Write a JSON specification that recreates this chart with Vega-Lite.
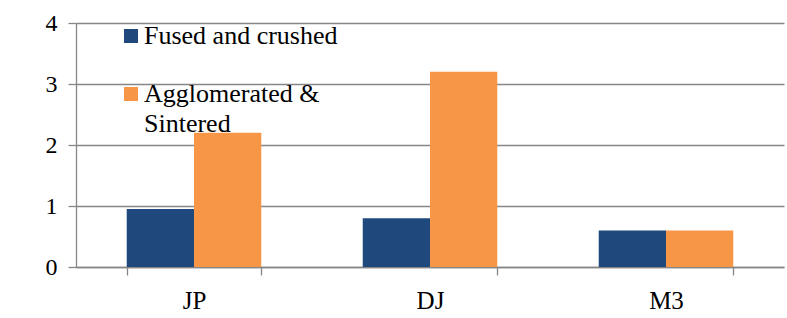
{
  "$schema": "https://vega.github.io/schema/vega-lite/v6.json",
  "width": 708,
  "height": 244,
  "autosize": {"type": "none"},
  "padding": {"left": 76, "top": 23, "right": 3, "bottom": 51},
  "data": {"values": [
    {"sample": "JP", "series": "Fused and crushed", "value": 0.95},
    {"sample": "JP", "series": "Agglomerated & Sintered", "value": 2.2},
    {"sample": "DJ", "series": "Fused and crushed", "value": 0.8},
    {"sample": "DJ", "series": "Agglomerated & Sintered", "value": 3.2},
    {"sample": "M3", "series": "Fused and crushed", "value": 0.6},
    {"sample": "M3", "series": "Agglomerated & Sintered", "value": 0.6}
  ]},
  "mark": {"type": "bar"},
  "encoding": {
    "x": {
      "field": "sample", "type": "nominal", "sort": ["JP", "DJ", "M3"],
      "scale": {"paddingInner": 0.43, "paddingOuter": 0.215},
      "axis": {"title": null, "labelAngle": 0, "tickBand": "extent", "tickSize": 8, "labelPadding": 13,
        "labelFont": "Liberation Serif", "labelFontSize": 25, "labelColor": "#000000",
        "domainColor": "#868686", "tickColor": "#868686", "domainWidth": 1.3, "tickWidth": 1.3, "grid": false}
    },
    "xOffset": {"field": "series", "type": "nominal", "sort": ["Fused and crushed", "Agglomerated & Sintered"]},
    "y": {
      "field": "value", "type": "quantitative", "scale": {"domain": [0, 4]},
      "axis": {"title": null, "values": [0, 1, 2, 3, 4], "tickSize": 8, "labelPadding": 11,
        "labelFont": "Liberation Serif", "labelFontSize": 24, "labelColor": "#000000",
        "domainColor": "#868686", "tickColor": "#868686", "domainWidth": 1.3, "tickWidth": 1.3,
        "grid": true, "gridColor": "#868686", "gridWidth": 1.3}
    },
    "color": {
      "field": "series", "type": "nominal", "sort": ["Fused and crushed", "Agglomerated & Sintered"],
      "scale": {"range": ["#1F497D", "#F79646"]},
      "legend": {
        "title": null, "orient": "none", "legendX": 42, "legendY": 0, "padding": 0,
        "symbolType": "square", "symbolSize": 196, "symbolStrokeWidth": 0, "symbolOpacity": 1,
        "labelFont": "Liberation Serif", "labelFontSize": 26, "labelColor": "#000000",
        "labelOffset": 0, "labelLimit": 400, "rowPadding": 32,
        "labelExpr": "datum.label == 'Agglomerated & Sintered' ? ['Agglomerated &', 'Sintered'] : datum.label"
      }
    }
  },
  "config": {"view": {"stroke": null}, "style": {"guide-label": {"lineHeight": 30}}}
}
